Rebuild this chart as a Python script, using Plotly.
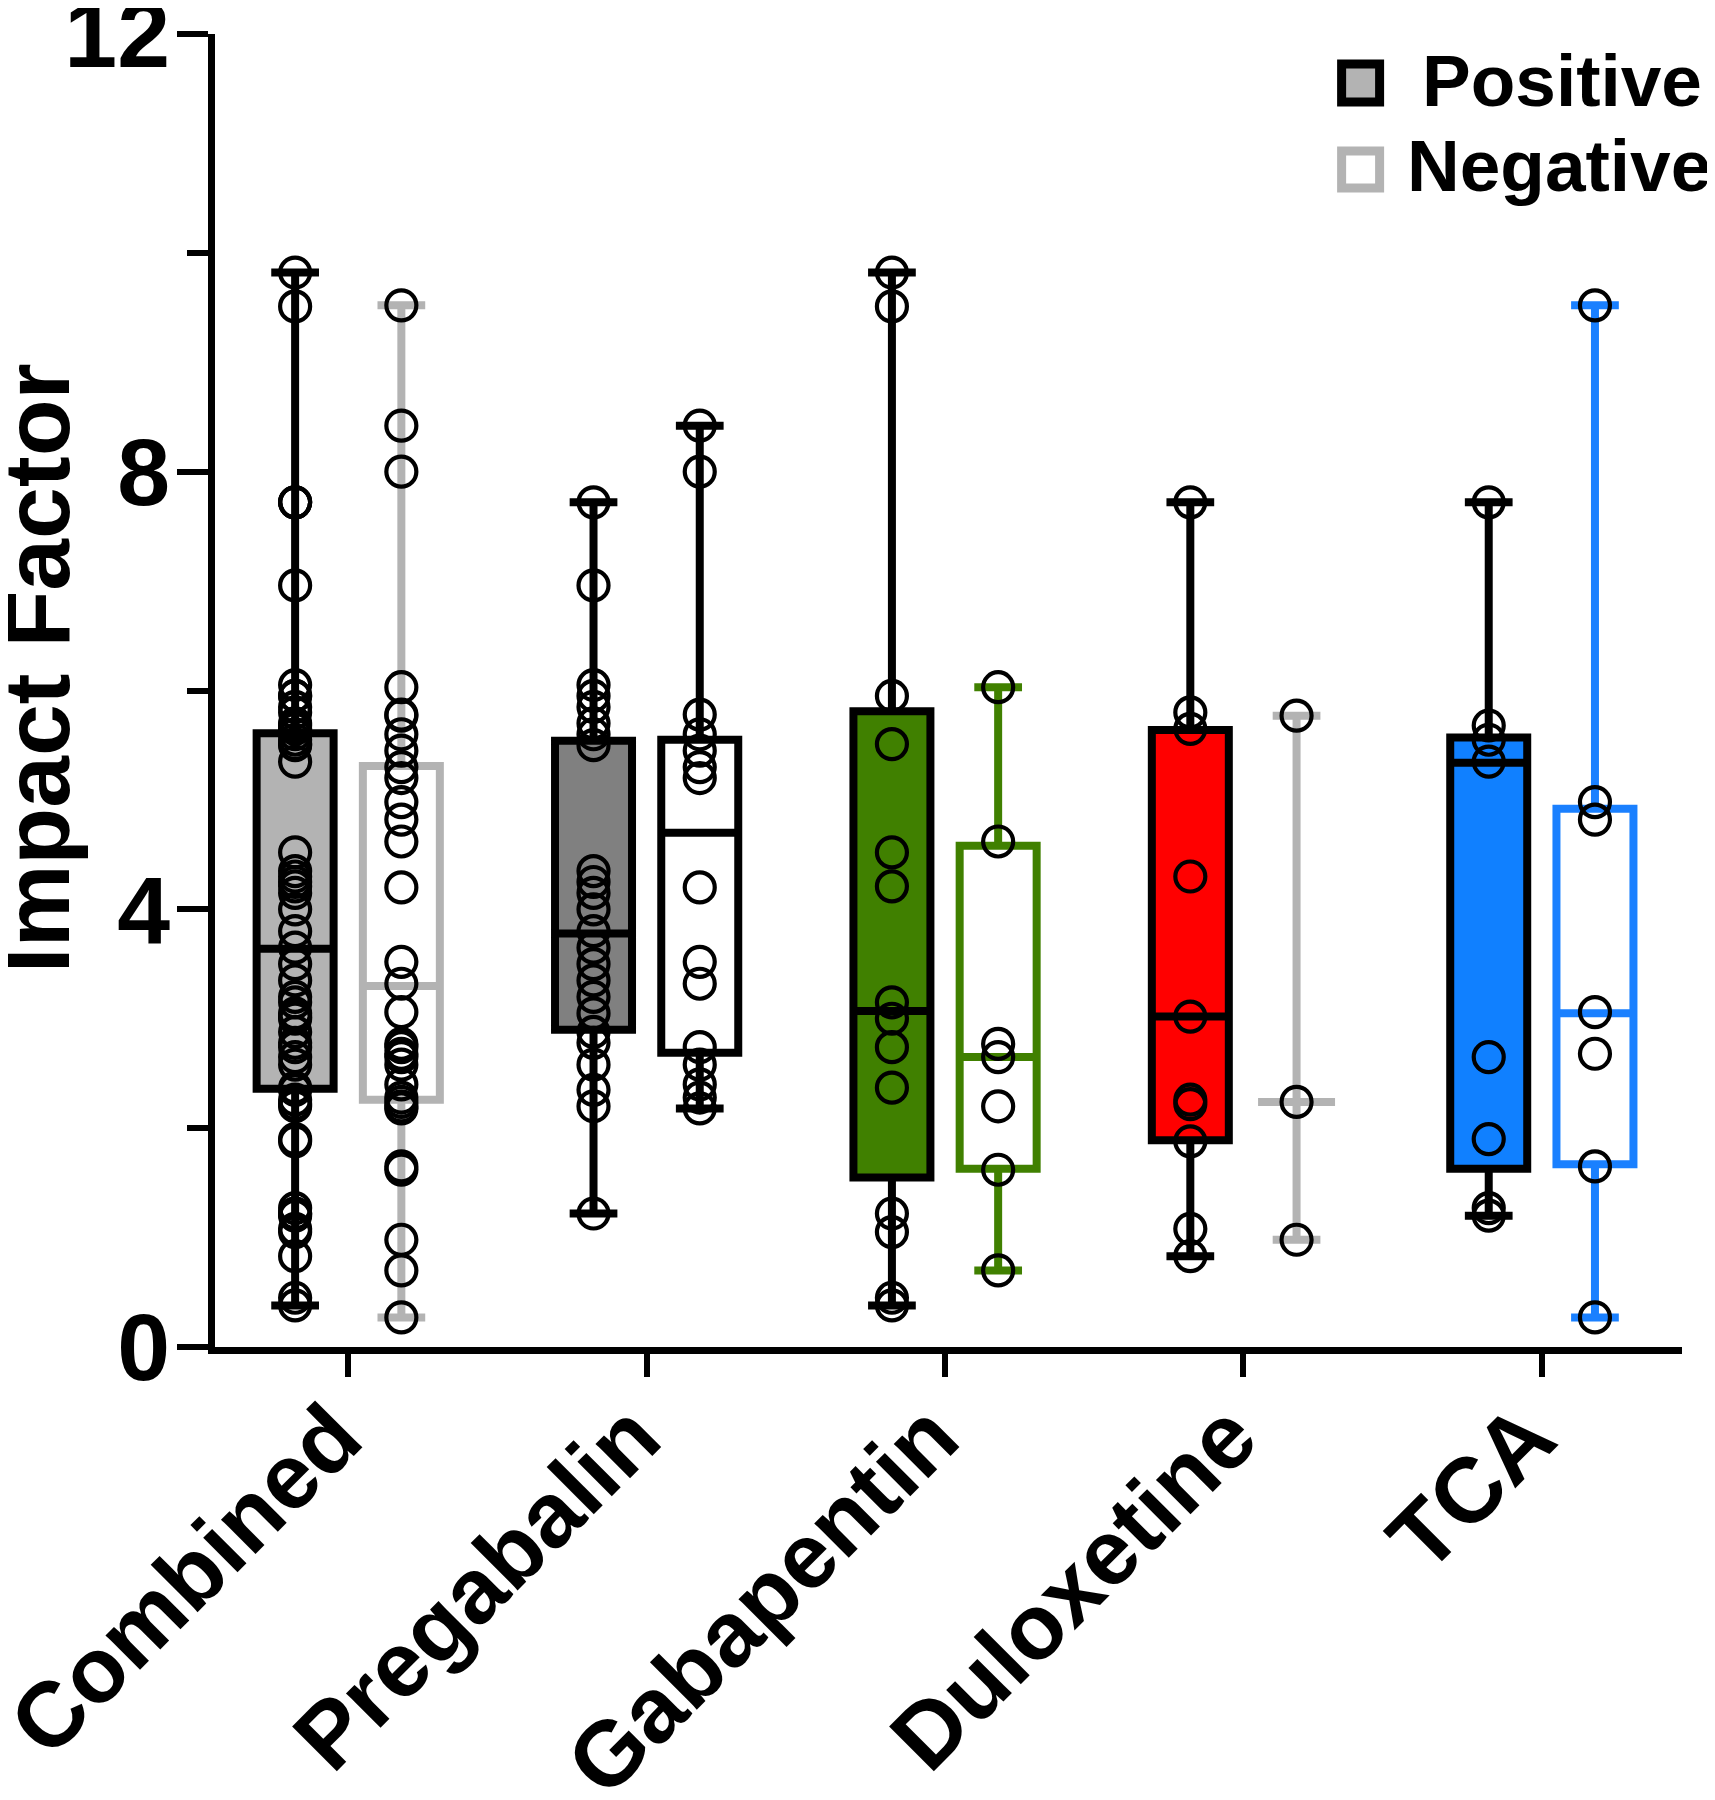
import plotly.graph_objects as go

categories = ["Combined", "Pregabalin", "Gabapentin", "Duloxetine", "TCA"]

# Individual impact-factor values
pregabalin_pos = [7.72, 6.96, 6.05, 5.95, 5.85, 5.7, 5.6, 5.5, 4.35, 4.25, 4.15, 4.0,
                  3.8, 3.65, 3.5, 3.35, 3.2, 3.05, 2.88, 2.78, 2.58, 2.35, 2.2, 1.22]
gabapentin_pos = [9.82, 9.51, 5.95, 5.51, 4.52, 4.21, 3.15, 3.0, 2.74, 2.37, 1.22, 1.05, 0.45, 0.38]
duloxetine_pos = [7.72, 5.8, 5.65, 4.3, 3.02, 2.26, 2.22, 1.88, 1.08, 0.83]
tca_pos = [7.72, 5.68, 5.55, 5.35, 2.65, 1.9, 1.27, 1.2]

pregabalin_neg = [8.42, 8.0, 5.78, 5.6, 5.45, 5.3, 5.2, 4.2, 3.52, 3.32, 2.74, 2.58, 2.4, 2.28, 2.18]
gabapentin_neg = [6.03, 4.62, 2.77, 2.65, 2.2, 1.62, 0.7]
duloxetine_neg = [5.77, 2.24, 0.98]
tca_neg = [9.52, 4.98, 4.82, 3.06, 2.68, 1.65, 0.27]

# Combined = all drugs pooled
combined_pos = pregabalin_pos + gabapentin_pos + duloxetine_pos + tca_pos
combined_neg = pregabalin_neg + gabapentin_neg + duloxetine_neg + tca_neg

positive = [combined_pos, pregabalin_pos, gabapentin_pos, duloxetine_pos, tca_pos]
negative = [combined_neg, pregabalin_neg, gabapentin_neg, duloxetine_neg, tca_neg]

# Box statistics as drawn in the figure (Q1, median, Q3)
pos_q1 = [2.36, 2.9, 1.55, 1.89, 1.63]
pos_median = [3.64, 3.78, 3.07, 3.02, 5.34]
pos_q3 = [5.61, 5.54, 5.81, 5.64, 5.57]
neg_q1 = [2.26, 2.69, 1.63, 2.24, 1.67]
neg_median = [3.3, 4.7, 2.65, 2.24, 3.05]
neg_q3 = [5.31, 5.55, 4.58, 2.24, 4.92]

pos_fill = ["#b3b3b3", "#808080", "#408000", "#ff0000", "#1080ff"]
pos_line = ["#000000"] * 5
neg_fill = ["#ffffff"] * 5
neg_line = ["#b3b3b3", "#000000", "#408000", "#b3b3b3", "#1a80ff"]

FONT = "Liberation Sans, Arial, Helvetica, sans-serif"
OFFSET = 0.178
BOXW = 0.258

# page geometry (the page body adds an 8px offset)
BODY = 8
L, T, W, H = 206.5, 26.4, 1467.5, 1313.0
PL, PT = L + BODY, T + BODY


def px(xp):
    return (xp - PL) / W


def py(yp):
    return (PT + H - yp) / H


fig = go.Figure()


def add_group(i, vals, q1, med, q3, fill, line, sign):
    x = i + sign * OFFSET
    fig.add_trace(go.Box(
        x=[x], q1=[q1], median=[med], q3=[q3],
        lowerfence=[min(vals)], upperfence=[max(vals)],
        width=BOXW, whiskerwidth=0.62, fillcolor=fill,
        line=dict(color=line, width=8), boxpoints=False,
        orientation="v", showlegend=False, hoverinfo="skip"))


for i in range(len(categories)):
    add_group(i, positive[i], pos_q1[i], pos_median[i], pos_q3[i], pos_fill[i], pos_line[i], -1)
    add_group(i, negative[i], neg_q1[i], neg_median[i], neg_q3[i], neg_fill[i], neg_line[i], +1)

for i in range(len(categories)):
    for vals, sign in ((positive[i], -1), (negative[i], +1)):
        fig.add_trace(go.Scatter(
            x=[i + sign * OFFSET] * len(vals), y=vals, mode="markers",
            marker=dict(symbol="circle-open", size=30, color="#000000",
                        line=dict(width=4.2, color="#000000")),
            showlegend=False, cliponaxis=False, hoverinfo="skip"))

# Legend (drawn manually)
legend_items = [("Positive", "#b3b3b3", "#000000", 64.5, 102.5, 81, 1420),
                ("Negative", "#ffffff", "#b3b3b3", 151.5, 188.5, 166, 1405)]
for label, fc, lc, ytop, ybot, ty, tx in legend_items:
    fig.add_shape(type="rect", xref="paper", yref="paper",
                  x0=px(1341.5), x1=px(1379.5), y0=py(ybot), y1=py(ytop),
                  fillcolor=fc, line=dict(color=lc, width=9))
    fig.add_annotation(text=label, xref="paper", yref="paper", x=px(tx), y=py(ty),
                       xanchor="left", yanchor="middle", showarrow=False,
                       font=dict(family=FONT, size=73, color="#000000", weight="bold"))

fig.add_annotation(text="Impact Factor", xref="paper", yref="paper",
                   x=px(36), y=py(669), xanchor="center", yanchor="middle",
                   textangle=-90, showarrow=False,
                   font=dict(family=FONT, size=93, color="#000000", weight="bold"))

fig.update_layout(
    template="none",
    width=1715, height=1800,
    margin=dict(l=L, r=1715 - L - W, t=T, b=1800 - T - H, pad=0),
    paper_bgcolor="white", plot_bgcolor="white",
    font=dict(family=FONT, color="#000000", weight="bold"),
    xaxis=dict(range=[-0.4465, 4.4697], tickmode="array",
               tickvals=list(range(len(categories))), ticktext=categories,
               tickangle=-45, ticks="outside", ticklen=23, tickwidth=6, tickcolor="#000000",
               showline=True, linewidth=7, linecolor="#000000", showgrid=False, zeroline=False,
               automargin=False, ticklabeloverflow="allow",
               ticklabelstandoff=-31, ticklabelshift=-14,
               tickfont=dict(family=FONT, size=92, color="#000000", weight="bold")),
    yaxis=dict(range=[0, 12], tick0=0, dtick=4, ticks="outside", ticklen=31, tickwidth=6,
               tickcolor="#000000", showline=True, linewidth=7, linecolor="#000000",
               showgrid=False, zeroline=False, automargin=False, ticklabeloverflow="allow",
               ticklabelstandoff=-12,
               minor=dict(dtick=2, ticks="outside", ticklen=21, tickwidth=6, tickcolor="#000000",
                          showgrid=False),
               tickfont=dict(family=FONT, size=95, color="#000000", weight="bold")),
)

fig.write_html("out.html")
